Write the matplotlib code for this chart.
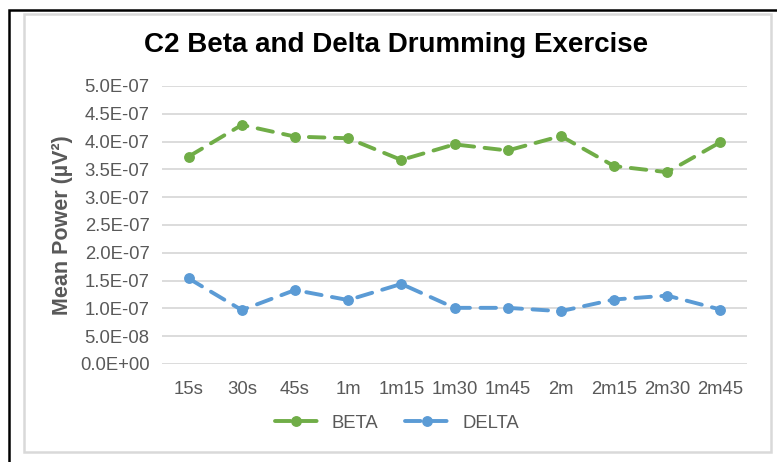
import numpy as np
import matplotlib
matplotlib.use("Agg")
import matplotlib.pyplot as plt
from matplotlib.patches import Rectangle
from matplotlib.ticker import FuncFormatter, MultipleLocator

# Dados do exercício (C2)
tempos = ["15s", "30s", "45s", "1m", "1m15", "1m30", "1m45", "2m", "2m15", "2m30", "2m45"]
beta = [3.73e-7, 4.30e-7, 4.09e-7, 4.06e-7, 3.67e-7, 3.95e-7, 3.84e-7, 4.10e-7, 3.56e-7, 3.45e-7, 3.99e-7]
delta = [1.54e-7, 0.97e-7, 1.33e-7, 1.15e-7, 1.44e-7, 1.01e-7, 1.01e-7, 0.95e-7, 1.16e-7, 1.23e-7, 0.98e-7]

plt.rcParams["font.family"] = ["Liberation Sans", "DejaVu Sans"]
cinza = "#595959"

fig = plt.figure(figsize=(7.77, 4.62), dpi=100)
W, H = 777, 462

# Moldura externa preta e moldura cinza do gráfico
fig.patches.append(Rectangle((9 / W, -0.1), 1.2, 1 - 10 / H + 0.1, transform=fig.transFigure,
                             fill=False, edgecolor="black", linewidth=1.8))
fig.patches.append(Rectangle((24 / W, 1 - 452 / H), (771 - 24) / W, (452 - 14) / H,
                             transform=fig.transFigure, fill=False,
                             edgecolor="#D9D9D9", linewidth=1.8))

ax = fig.add_axes([162 / W, 1 - 364 / H, (747 - 162) / W, (364 - 86) / H])
x = np.arange(len(tempos))

estilo = dict(linewidth=2.8, linestyle=(0, (4.0, 2.7)), marker="o", markersize=6.8,
              dash_capstyle="round")
ax.plot(x, beta, color="#70AD47", label="BETA", **estilo)
ax.plot(x, delta, color="#5B9BD5", label="DELTA", **estilo)

ax.set_xlim(-0.5, len(tempos) - 0.5)
ax.set_ylim(0, 5e-7)
ax.yaxis.set_major_locator(MultipleLocator(0.5e-7))
ax.yaxis.set_major_formatter(FuncFormatter(lambda v, p: f"{v:.1E}"))
ax.set_xticks(x)
ax.set_xticklabels(tempos)
ax.grid(axis="y", color="#D9D9D9", linewidth=1.3)
ax.set_axisbelow(True)
for s in ax.spines.values():
    s.set_visible(False)
ax.tick_params(length=0, labelsize=13.3, colors=cinza)
ax.tick_params(axis="y", pad=9)
ax.tick_params(axis="x", pad=12)

ax.set_ylabel("Mean Power (µV²)", fontsize=15.5, fontweight="bold", color=cinza, labelpad=5)
fig.text(396 / W, 1 - 45 / H, "C2 Beta and Delta Drumming Exercise", fontsize=20,
         fontweight="bold", ha="center", va="center")

ax.legend(loc="center", bbox_to_anchor=(397 / W, 1 - 423 / H), bbox_transform=fig.transFigure,
          ncol=2, frameon=False, fontsize=13.3, labelcolor=cinza, handlelength=2.3,
          columnspacing=1.45, handletextpad=0.8)

fig.savefig("out.png", dpi=100)
